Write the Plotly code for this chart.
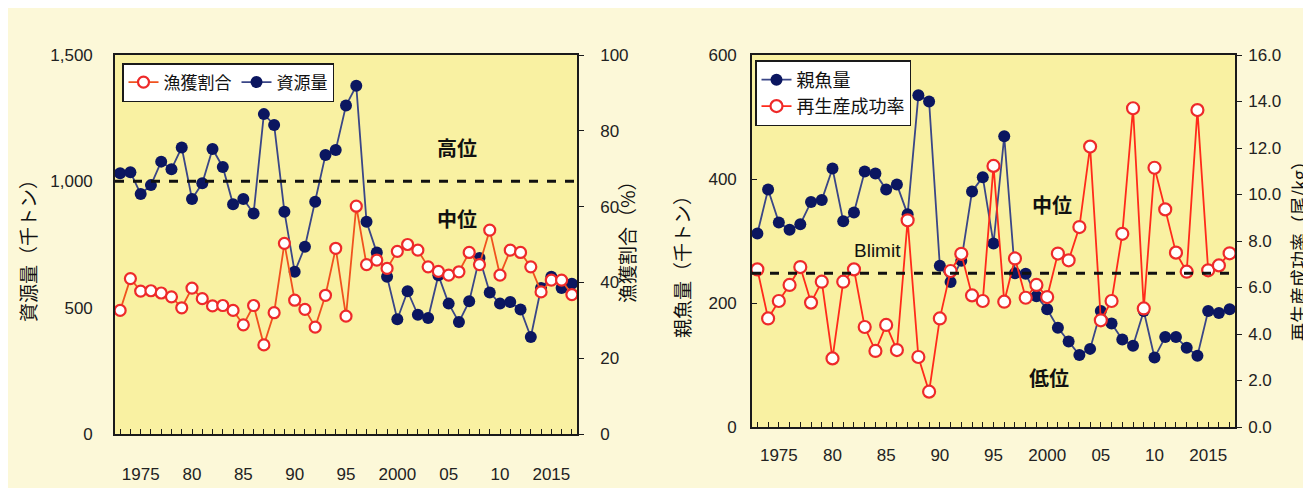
import plotly.graph_objects as go

# ---------------- data ----------------
years = list(range(1973, 2018))

# left panel
stock = [1032, 1036, 950, 985, 1078, 1048, 1134, 930, 992, 1128,
         1057, 909, 930, 873, 1266, 1223, 880, 642, 741, 919,
         1104, 1124, 1300, 1378, 840, 718, 622, 454, 565, 472,
         459, 628, 516, 443, 525, 697, 560, 516, 522, 493,
         384, 578, 622, 578, 595]
catch_rate = [32.6, 41.0, 37.7, 37.8, 37.2, 36.2, 33.3, 38.5, 35.7, 33.8,
              33.9, 32.6, 28.8, 33.9, 23.5, 32.0, 50.3, 35.3, 32.9, 28.2,
              36.6, 49.0, 31.1, 60.1, 44.7, 45.9, 43.7, 48.2, 50.0, 48.5,
              44.1, 42.9, 41.9, 42.8, 47.9, 44.7, 53.8, 41.9, 48.5, 47.9,
              44.1, 37.5, 40.6, 40.6, 36.8]

# right panel
ssb = [312, 383, 330, 318, 327, 363, 366, 417, 332, 346,
       412, 409, 383, 391, 343, 535, 525, 260, 234, 268,
       380, 403, 296, 469, 248, 247, 211, 190, 160, 138,
       116, 126, 187, 167, 141, 131, 187, 112, 145, 145,
       128, 115, 187, 184, 190]
rps = [6.78, 4.67, 5.42, 6.11, 6.88, 5.35, 6.25, 2.95, 6.25, 6.78,
       4.30, 3.27, 4.39, 3.31, 8.89, 3.01, 1.52, 4.67, 6.71, 7.45,
       5.66, 5.42, 11.23, 5.39, 7.25, 5.56, 6.11, 5.59, 7.46, 7.17,
       8.60, 12.06, 4.59, 5.42, 8.31, 13.71, 5.10, 11.15, 9.36, 7.50,
       6.68, 13.63, 6.74, 6.95, 7.47]

high_mid_threshold = 1000   # 資源量 (千トン)
blimit = 248                # 親魚量 (千トン)

tick_years = {1975: "1975", 1980: "80", 1985: "85", 1990: "90", 1995: "95",
              2000: "2000", 2005: "05", 2010: "10", 2015: "2015"}
x_ticktext = [tick_years.get(y, "") for y in years]

# ---------------- styles ----------------
OFF = 8                      # page body margin
W, H = 1311 - OFF, 488 - OFF
NUM_FONT = "Liberation Sans, Arial, sans-serif"
JP_FONT = "Noto Sans CJK JP, sans-serif"
NAVY = "#0B1660"
NAVY_LINE = "#3A4687"
RED_MK = "#EE2A2A"
ORANGE_LINE = "#F0521E"
RED_LINE = "#FF2A1A"
PLOT_BG = "#F9F1A2"
PAPER_BG = "#FCF8D8"

def px_x(p):
    return (p - OFF) / W

def px_y(p):
    return 1 - (p - OFF) / H

fig = go.Figure()

# left panel traces
fig.add_trace(go.Scatter(
    x=years, y=catch_rate, name="漁獲割合", xaxis="x", yaxis="y2",
    mode="lines+markers", legend="legend",
    line=dict(color=ORANGE_LINE, width=1.8),
    marker=dict(symbol="circle", size=11, color="white",
                line=dict(color=RED_MK, width=2.2))))
fig.add_trace(go.Scatter(
    x=years, y=stock, name="資源量", xaxis="x", yaxis="y",
    mode="lines+markers", legend="legend",
    line=dict(color=NAVY_LINE, width=1.8),
    marker=dict(symbol="circle", size=12, color=NAVY,
                line=dict(color=NAVY, width=0))))

# right panel traces
fig.add_trace(go.Scatter(
    x=years, y=ssb, name="親魚量", xaxis="x2", yaxis="y3",
    mode="lines+markers", legend="legend2",
    line=dict(color=NAVY_LINE, width=1.8),
    marker=dict(symbol="circle", size=12, color=NAVY,
                line=dict(color=NAVY, width=0))))
fig.add_trace(go.Scatter(
    x=years, y=rps, name="再生産成功率", xaxis="x2", yaxis="y4",
    mode="lines+markers", legend="legend2",
    line=dict(color=RED_LINE, width=1.8),
    marker=dict(symbol="circle", size=12, color="white",
                line=dict(color=RED_MK, width=2.2))))

axis_common = dict(showline=True, linecolor="#1a1a1a", linewidth=1.6,
                   showgrid=False, zeroline=False, automargin=False,
                   tickfont=dict(family=NUM_FONT, size=17, color="#222"))

left_dom = [px_x(115), px_x(577)]
right_dom = [px_x(752), px_x(1235)]

fig.update_layout(
    width=W, height=H,
    margin=dict(l=0, r=0, t=0, b=0, autoexpand=False),
    paper_bgcolor=PAPER_BG, plot_bgcolor=PLOT_BG,
    showlegend=True,
    xaxis=dict(domain=left_dom, range=[1972.5, 2017.5], anchor="y",
               tickvals=years, ticktext=x_ticktext, ticks="inside",
               ticklen=5, tickcolor="#1a1a1a", mirror=True,
               ticklabelstandoff=24, **axis_common),
    yaxis=dict(domain=[px_y(434), px_y(55)], range=[0, 1500], anchor="x",
               tickvals=[0, 500, 1000, 1500], tickformat=",d", ticks="",
               mirror=True, ticklabelstandoff=17, **axis_common),
    yaxis2=dict(range=[0, 100], overlaying="y", side="right", anchor="x",
                dtick=20, ticks="outside", ticklen=5, tickcolor="#1a1a1a",
                ticklabelstandoff=13, **axis_common),
    xaxis2=dict(domain=right_dom, range=[1972.5, 2017.5], anchor="y3",
                tickvals=years, ticktext=x_ticktext, ticks="inside",
                ticklen=5, tickcolor="#1a1a1a", mirror=True,
                ticklabelstandoff=12, **axis_common),
    yaxis3=dict(domain=[px_y(427), px_y(55)], range=[0, 600], anchor="x2",
                dtick=200, ticks="inside", ticklen=5, tickcolor="#1a1a1a",
                mirror=True, ticklabelstandoff=10, **axis_common),
    yaxis4=dict(range=[0, 16], overlaying="y3", side="right", anchor="x2",
                dtick=2, tickformat=".1f", ticks="outside", ticklen=5,
                tickcolor="#1a1a1a", ticklabelstandoff=3, **axis_common),
    legend=dict(x=px_x(122), y=px_y(63), xanchor="left", yanchor="top",
                orientation="h", bgcolor="white", bordercolor="#1a1a1a",
                borderwidth=1.5, font=dict(family=JP_FONT, size=17, color="#111"),
                itemwidth=30, traceorder="normal"),
    legend2=dict(x=px_x(755), y=px_y(60), xanchor="left", yanchor="top",
                 orientation="v", bgcolor="white", bordercolor="#1a1a1a",
                 borderwidth=1.5, font=dict(family=JP_FONT, size=18, color="#111"),
                 itemwidth=30, traceorder="normal"),
)

# threshold lines
fig.add_shape(type="line", xref="x domain", yref="y", x0=0, x1=1,
              y0=high_mid_threshold, y1=high_mid_threshold,
              line=dict(color="#111", width=3, dash="dash"))
fig.add_shape(type="line", xref="x2 domain", yref="y3", x0=0, x1=1,
              y0=blimit, y1=blimit,
              line=dict(color="#111", width=3, dash="dash"))

def ann(text, x, y, size=20, bold=True, angle=0, font=JP_FONT):
    fig.add_annotation(text=("<b>%s</b>" % text) if bold else text,
                       xref="paper", yref="paper", x=px_x(x), y=px_y(y),
                       xanchor="center", yanchor="middle", showarrow=False,
                       textangle=angle,
                       font=dict(family=font, size=size, color="#111"))

ann("高位", 457, 147)
ann("中位", 457, 218)
ann("中位", 1052, 204)
ann("低位", 1049, 377)
ann("Blimit", 877, 250, size=19, bold=False, font=NUM_FONT)

ann("資源量（千トン）", 27, 246, size=19, bold=False, angle=-90)
ann("漁獲割合（%）", 626, 237, size=19, bold=False, angle=-90)
ann("親魚量（千トン）", 681, 262, size=19, bold=False, angle=-90)
ann("再生産成功率（尾/kg）", 1298, 247, size=18, bold=False, angle=-90)

fig.write_html("out.html")
